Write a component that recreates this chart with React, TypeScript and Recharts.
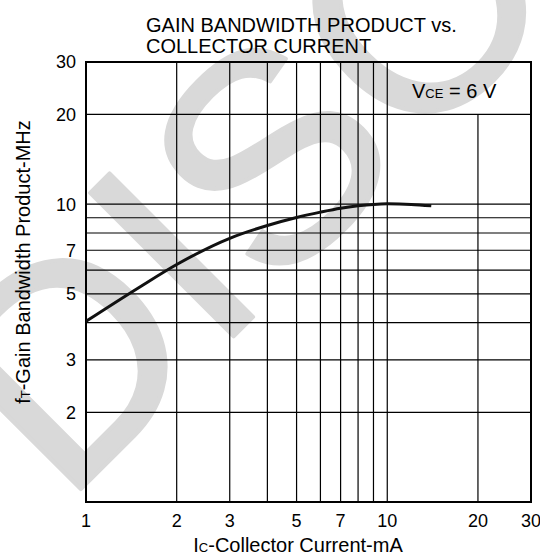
import React from 'react';
import { LineChart, Line, XAxis, YAxis, ReferenceLine, ReferenceArea } from 'recharts';

const currentMA = [1, 1.5, 2, 3, 4, 5, 6, 7, 8, 9, 10, 12, 14];
const gainBandwidthMHz = [4.04, 5.25, 6.27, 7.68, 8.48, 9.02, 9.4, 9.69, 9.87, 9.98, 10.02, 9.98, 9.87];
const xTicks = [1, 2, 3, 5, 7, 10, 20, 30];
const yTicks = [2, 3, 5, 7, 10, 20, 30];
const xGridFull = [2, 3, 4, 5, 6, 7, 8, 9, 10];
const xGridShort = [20];
const yGrid = [2, 3, 4, 5, 6, 7, 8, 9, 10, 20];
const xDomain: [number, number] = [1, 30];
const yDomain: [number, number] = [1, 30];

const FONT = '"Liberation Sans", Arial, Helvetica, sans-serif';

const data = currentMA.map((x, i) => ({ x, y: gainBandwidthMHz[i] }));

const tickStyle = { fill: '#000', fontSize: 18, fontFamily: FONT };

export default function App() {
  return (
    <div style={{ position: 'absolute', left: 0, top: 0, width: 540, height: 556, background: '#fff', overflow: 'hidden' }}>
      <svg width={540} height={556} style={{ position: 'absolute', left: 0, top: 0 }}>
        <text
          transform="translate(80,490) rotate(-45)"
          x={-23}
          y={0}
          fontSize={295}
          fill="#d9d9d9"
          stroke="#d9d9d9"
          strokeWidth={4}
          strokeLinejoin="round"
          fontFamily={FONT}
        >
          DISCONTINUED
        </text>
      </svg>
      <div style={{ position: 'absolute', left: 0, top: 0 }}>
        <LineChart width={540} height={556} data={data} margin={{ top: 62, right: 9, bottom: 24, left: 0 }}>
          <XAxis
            dataKey="x"
            type="number"
            scale="log"
            domain={xDomain}
            ticks={xTicks}
            interval={0}
            allowDataOverflow
            tickLine={false}
            axisLine={false}
            tickSize={0}
            tickMargin={12}
            height={30}
            tick={tickStyle}
          />
          <YAxis
            type="number"
            scale="log"
            domain={yDomain}
            ticks={yTicks}
            interval={0}
            allowDataOverflow
            tickLine={false}
            axisLine={false}
            tickSize={0}
            tickMargin={10}
            width={86}
            tick={tickStyle}
          />
          {xGridFull.map((v) => (
            <ReferenceLine key={'vx' + v} x={v} stroke="#000" strokeWidth={1.2} />
          ))}
          {xGridShort.map((v) => (
            <ReferenceLine
              key={'vs' + v}
              segment={[{ x: v, y: yDomain[0] }, { x: v, y: 20 }]}
              stroke="#000"
              strokeWidth={1.2}
            />
          ))}
          {yGrid.map((v) => (
            <ReferenceLine key={'hy' + v} y={v} stroke="#000" strokeWidth={1.2} />
          ))}
          <ReferenceArea
            x1={xDomain[0]}
            x2={xDomain[1]}
            y1={yDomain[0]}
            y2={yDomain[1]}
            fill="none"
            fillOpacity={0}
            stroke="#000"
            strokeWidth={2}
          />
          <Line
            dataKey="y"
            type="monotone"
            stroke="#111"
            strokeWidth={3}
            dot={false}
            activeDot={false}
            isAnimationActive={false}
          />
        </LineChart>
      </div>
      <svg width={540} height={556} style={{ position: 'absolute', left: 0, top: 0, pointerEvents: 'none' }} fontFamily={FONT}>
        <text x={146} y={31.5} fontSize={20} fill="#000">GAIN BANDWIDTH PRODUCT vs.</text>
        <text x={146} y={52.5} fontSize={20} fill="#000">COLLECTOR CURRENT</text>
        <text x={412} y={98} fontSize={20} fill="#000">
          V<tspan fontSize={13}>CE</tspan> = 6 V
        </text>
        <text x={298} y={552} fontSize={20} fill="#000" textAnchor="middle">
          I<tspan fontSize={13}>C</tspan>-Collector Current-mA
        </text>
        <text transform="translate(30,262) rotate(-90)" fontSize={20} fill="#000" textAnchor="middle">
          f<tspan fontSize={13}>T</tspan>-Gain Bandwidth Product-MHz
        </text>
      </svg>
    </div>
  );
}
